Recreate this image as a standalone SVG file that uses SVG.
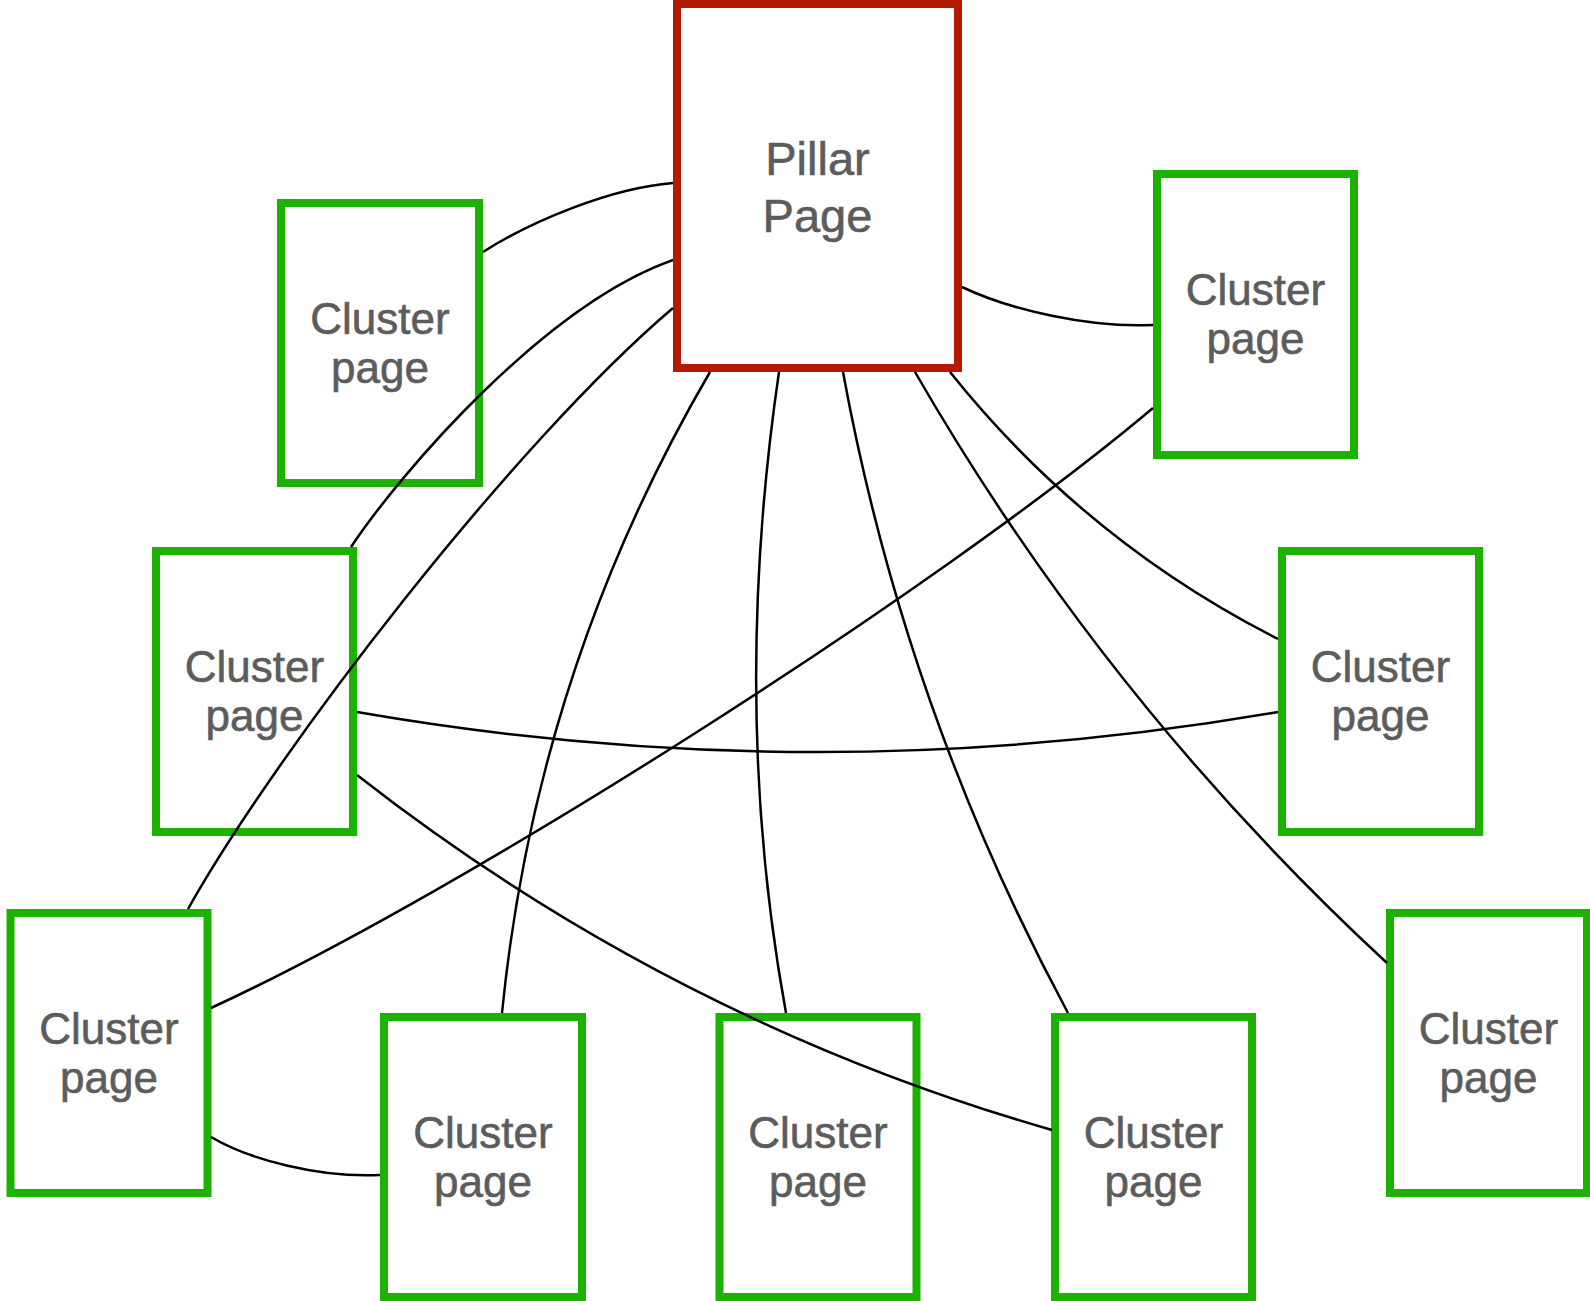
<svg xmlns="http://www.w3.org/2000/svg" width="1590" height="1301" viewBox="0 0 1590 1301">
  <style>
    .bg { fill: #ffffff; }
    .pillar { fill: none; stroke: #b31b00; stroke-width: 8; }
    .cluster { fill: none; stroke: #1db100; stroke-width: 8; }
    .label { font-family: "Liberation Sans", Arial, Helvetica, sans-serif; fill: #5c5c5c; stroke: #5c5c5c; stroke-width: 0.6; text-anchor: middle; }
    .pl { font-size: 47px; }
    .cl { font-size: 44px; }
    .link { fill: none; stroke: #000000; stroke-width: 2.5; stroke-linecap: butt; }
  </style>
  <rect class="bg" x="0" y="0" width="1590" height="1301"/>

  <!-- pages -->
  <g id="pillar">
    <rect class="pillar" x="677" y="4" width="281" height="364"/>
    <text class="label pl" x="817.5" y="175">Pillar</text>
    <text class="label pl" x="817.5" y="232">Page</text>
  </g>
  <g id="cluster-top-left">
    <rect class="cluster" x="281" y="203" width="198" height="280"/>
    <text class="label cl" x="380" y="334">Cluster</text>
    <text class="label cl" x="380" y="383">page</text>
  </g>
  <g id="cluster-top-right">
    <rect class="cluster" x="1157" y="174" width="197" height="281"/>
    <text class="label cl" x="1255.5" y="305">Cluster</text>
    <text class="label cl" x="1255.5" y="354">page</text>
  </g>
  <g id="cluster-mid-left">
    <rect class="cluster" x="156" y="551" width="197" height="281"/>
    <text class="label cl" x="254.5" y="682">Cluster</text>
    <text class="label cl" x="254.5" y="731">page</text>
  </g>
  <g id="cluster-mid-right">
    <rect class="cluster" x="1282" y="551" width="197" height="281"/>
    <text class="label cl" x="1380.5" y="682">Cluster</text>
    <text class="label cl" x="1380.5" y="731">page</text>
  </g>
  <g id="cluster-low-left">
    <rect class="cluster" x="10.5" y="913" width="197" height="280"/>
    <text class="label cl" x="109" y="1044">Cluster</text>
    <text class="label cl" x="109" y="1093">page</text>
  </g>
  <g id="cluster-bottom-1">
    <rect class="cluster" x="384" y="1017" width="198" height="280"/>
    <text class="label cl" x="483" y="1148">Cluster</text>
    <text class="label cl" x="483" y="1197">page</text>
  </g>
  <g id="cluster-bottom-2">
    <rect class="cluster" x="719.5" y="1017" width="197" height="280"/>
    <text class="label cl" x="818" y="1148">Cluster</text>
    <text class="label cl" x="818" y="1197">page</text>
  </g>
  <g id="cluster-bottom-3">
    <rect class="cluster" x="1055" y="1017" width="197" height="280"/>
    <text class="label cl" x="1153.5" y="1148">Cluster</text>
    <text class="label cl" x="1153.5" y="1197">page</text>
  </g>
  <g id="cluster-low-right">
    <rect class="cluster" x="1390" y="913" width="197" height="280"/>
    <text class="label cl" x="1488.5" y="1044">Cluster</text>
    <text class="label cl" x="1488.5" y="1093">page</text>
  </g>

  <!-- links -->
  <g id="links">
    <path class="link" d="M483,252 C530,222 610,188 673,183"/>
    <path class="link" d="M673,260 C545,305 401,472 351,547"/>
    <path class="link" d="M673,308 C513,444 278,749 188,909"/>
    <path class="link" d="M710,372 Q536,670 502,1013"/>
    <path class="link" d="M779,372 Q730,707 786,1013"/>
    <path class="link" d="M843,372 Q905,710 1068,1013"/>
    <path class="link" d="M915,372 Q1106,703 1387,963"/>
    <path class="link" d="M950,372 Q1085,541 1278,639"/>
    <path class="link" d="M962,287 C1010,310 1090,328 1153,325"/>
    <path class="link" d="M1153,408 C937,590 467,890 211,1008"/>
    <path class="link" d="M357,712 Q817,792 1278,712"/>
    <path class="link" d="M357,775 Q670,1020 1052,1130"/>
    <path class="link" d="M211,1137 C250,1160 320,1178 380,1175"/>
  </g>
</svg>
